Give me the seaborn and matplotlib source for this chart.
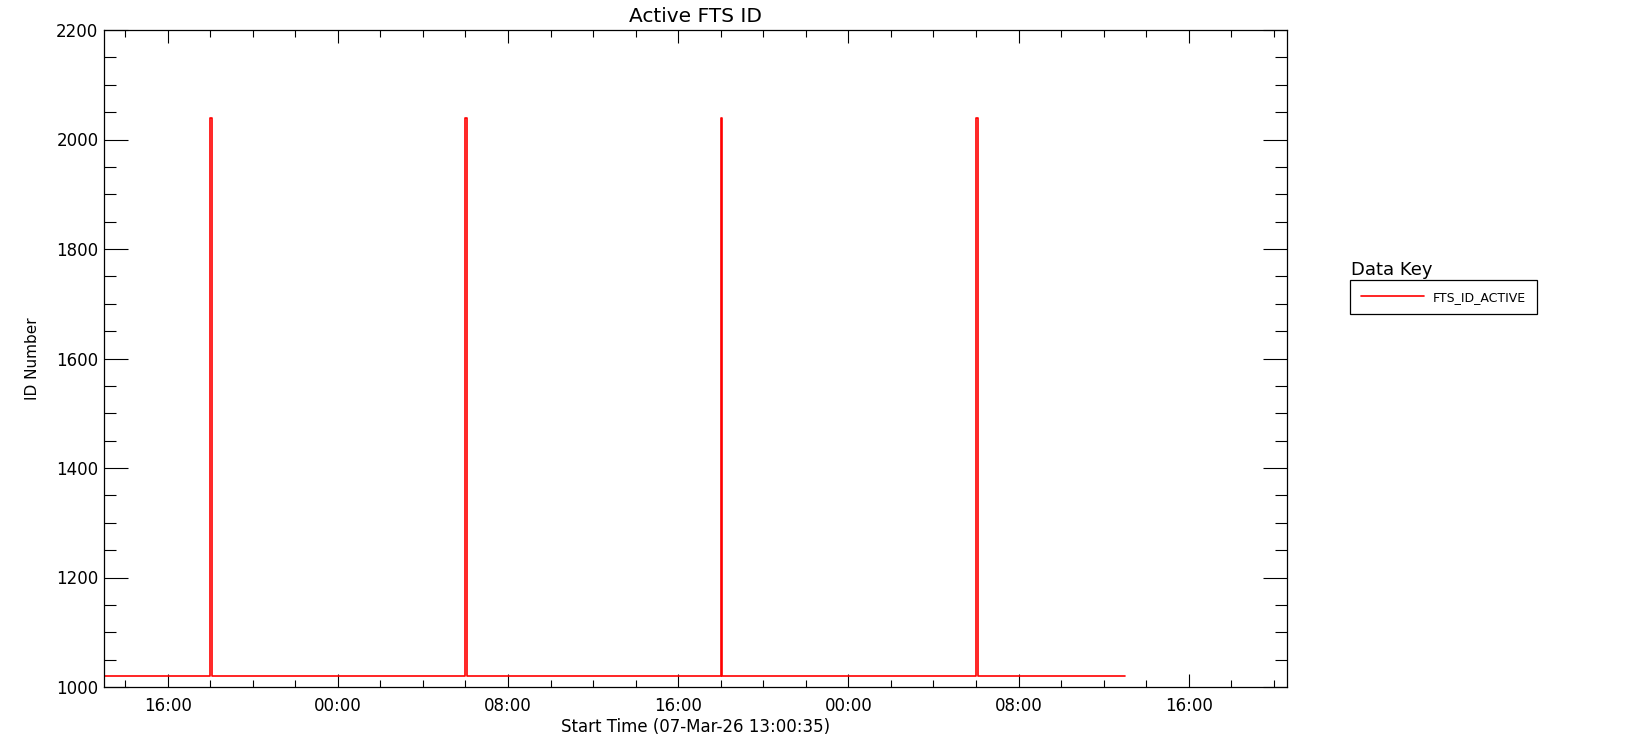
import numpy as np
import pandas as pd
import matplotlib
matplotlib.use("Agg")
import matplotlib.pyplot as plt
import matplotlib.dates as mdates
import seaborn as sns

# FTS ID samples (step changes)
times = [
    "2026-03-07 13:00:35", "2026-03-07 18:00:00", "2026-03-07 18:05:00",
    "2026-03-08 06:00:00", "2026-03-08 06:03:00", "2026-03-08 18:00:00",
    "2026-03-08 18:04:00", "2026-03-09 06:00:00", "2026-03-09 06:06:00",
    "2026-03-09 13:00:35",
]
fts_id = [1020, 2040, 1020, 2040, 1020, 2040, 1020, 2040, 1020, 1020]

x_start = "2026-03-07 13:00:35"
x_end = "2026-03-09 20:37:00"
y_min, y_max = 1000, 2200

df = pd.DataFrame({"time": pd.to_datetime(times, format="%Y-%m-%d %H:%M:%S"),
                   "FTS_ID_ACTIVE": fts_id})

sns.set_style("white")
plt.rcParams["font.family"] = ["DejaVu Sans"]
plt.rcParams["text.color"] = "black"
plt.rcParams["axes.labelcolor"] = "black"

fig = plt.figure(figsize=(16.5, 7.5), dpi=100)
ax = fig.add_axes([104 / 1650, 1 - 687 / 750, (1287 - 104) / 1650, (687 - 30) / 750])

sns.lineplot(data=df, x="time", y="FTS_ID_ACTIVE", ax=ax, color="#ff0000",
             linewidth=1.2, drawstyle="steps-post", label="FTS_ID_ACTIVE")

ax.set_xlim(pd.Timestamp(x_start), pd.Timestamp(x_end))
ax.set_ylim(y_min, y_max)

# time axis: major every 8 h, minor every 2 h
ax.xaxis.set_major_locator(mdates.HourLocator(byhour=[0, 8, 16]))
ax.xaxis.set_minor_locator(mdates.HourLocator(byhour=range(0, 24, 2)))
ax.xaxis.set_major_formatter(mdates.DateFormatter("%H:%M"))
ax.set_yticks(np.arange(y_min, y_max + 1, 200))
ax.set_yticks(np.arange(y_min, y_max + 1, 50), minor=True)

for s in ax.spines.values():
    s.set_color("black")
    s.set_linewidth(0.9)

ax.tick_params(axis="x", which="both", direction="in", top=True, bottom=True,
               width=0.8, colors="black", labelsize=12, pad=7)
ax.tick_params(axis="x", which="major", length=13 * 0.72)
ax.tick_params(axis="x", which="minor", length=7 * 0.72)
ax.tick_params(axis="y", which="both", direction="in", left=True, right=True,
               width=0.8, colors="black", labelsize=12, pad=4)
ax.tick_params(axis="y", which="major", length=24 * 0.72)
ax.tick_params(axis="y", which="minor", length=12 * 0.72)

ax.set_title("Active FTS ID", fontsize=14.5, pad=6)
ax.set_xlabel("Start Time (07-Mar-26 13:00:35)", fontsize=12)
ax.set_ylabel("ID Number", fontsize=11)
ax.xaxis.set_label_coords(0.5, -0.047)
ax.yaxis.set_label_coords(-0.054, 0.5)

# legend to the right of the plot
ax.legend(loc="upper left", bbox_to_anchor=(1350 / 1650, 1 - 280 / 750),
          bbox_transform=fig.transFigure, borderaxespad=0, fontsize=9,
          frameon=True, fancybox=False, edgecolor="black", framealpha=1,
          borderpad=0.85, handlelength=5.1, handletextpad=0.7)
ax.get_legend().get_frame().set_linewidth(0.9)
fig.text(1351 / 1650, 1 - 275 / 750, "Data Key", fontsize=13, va="baseline")

fig.savefig("out.png", dpi=100)
